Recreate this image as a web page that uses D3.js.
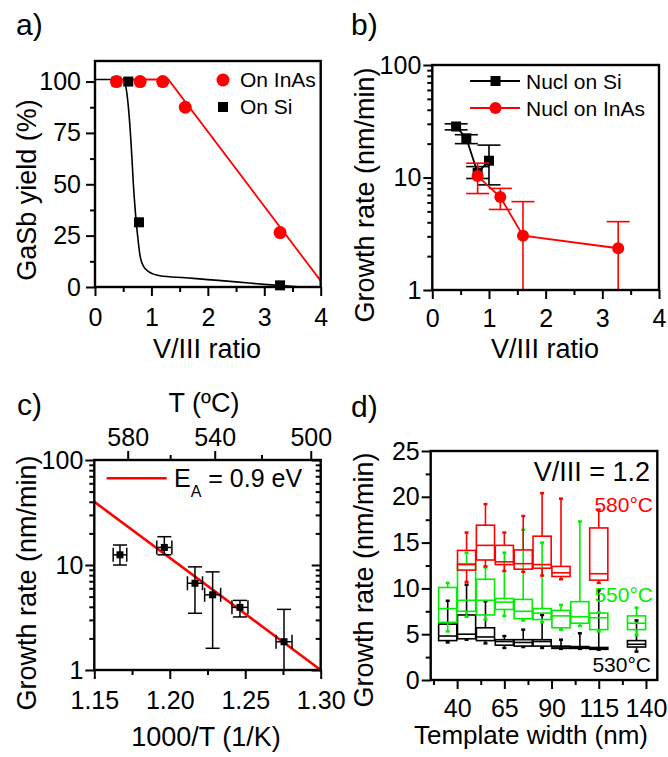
<!DOCTYPE html>
<html>
<head>
<meta charset="utf-8">
<script src="https://cdn.jsdelivr.net/npm/d3@7"></script>
<style>
  body { margin: 0; background: #fff; }
  svg { display: block; font-family: "Liberation Sans", Arial, sans-serif; }
</style>
</head>
<body>
<svg id="fig" width="668" height="757"></svg>
<script>
// ---- a) GaSb yield vs V/III ratio
const yieldInAsX = [0.38, 0.8, 1.2, 1.6, 3.28];
const yieldInAs = [100, 100, 100, 87.5, 26.5];
const yieldSiX = [0.38, 0.59, 0.78, 3.28];
const yieldSi = [100, 100, 31.5, 0.8];
const fitInAs = [[0.35, 101], [1.3, 101], [4.0, 3]];
const fitSi = [[0.02, 101], [0.5, 101], [0.55, 97], [0.6, 85], [0.65, 65], [0.68, 50],
  [0.72, 35], [0.755, 25], [0.8, 15], [0.86, 10], [0.95, 7.5], [1.15, 5.5],
  [1.6, 4.5], [2, 3.6], [2.5, 2.5], [3, 1.3], [3.6, 0.1]];

// ---- b) growth rate vs V/III ratio (nucleation)
const nuclSiX = [0.42, 0.6, 0.8, 1.0];
const nuclSi = [28.4, 22.3, 11, 14.1];
const nuclSiLo = [26.5, 20, 9.8, 8.6];
const nuclSiHi = [30, 24, 12.5, 19.4];
const nuclInAsX = [0.8, 1.2, 1.6, 3.28];
const nuclInAs = [10.3, 6.7, 3.04, 2.35];
const nuclInAsLo = [7.2, 5.2, 1, 1];
const nuclInAsHi = [13.4, 8.0, 6.1, 4.05];

// ---- c) Arrhenius plot
const invT = [1.167, 1.1964, 1.2167, 1.2284, 1.2465, 1.2757];
const invTErr = [0.0045, 0.005, 0.005, 0.0053, 0.0053, 0.0053];
const arrRate = [12.5, 14.7, 6.7, 5.2, 3.95, 1.86];
const arrLo = [10, 12.5, 3.47, 1.61, 3.2, 1];
const arrHi = [15.5, 18.6, 9.6, 8.6, 4.6, 3.78];
const arrFit = [[1.15, 40], [1.30, 1.0]];
const tempMajor = [580, 540, 500];
const tempMinor = [560, 520];

// ---- d) growth rate vs template width, [min, q1, median, q3, max]
const widths580 = [45, 55, 65, 75, 85, 95, 115];
const box580 = [[10.7, 12.0, 12.6, 14.15, 16.1], [12.4, 13.1, 14.7, 16.9, 19.2],
  [11.9, 12.6, 12.9, 14.7, 16.1], [11.8, 12.1, 12.7, 14.2, 17.9], [11.4, 12.2, 12.6, 15.7, 20.4],
  [11.0, 11.3, 11.7, 12.4, 19.8], [10.6, 10.9, 11.6, 16.6, 18.6]];
const widths550 = [35, 45, 55, 65, 75, 85, 95, 105, 115, 135];
const box550 = [[5.3, 6.3, 7.8, 10.1, 10.6], [6.9, 7.5, 8.7, 12.7, 13.9], [6.6, 7.1, 8.7, 11.0, 12.3],
  [7.0, 7.7, 8.5, 8.9, 13.9], [6.5, 6.7, 7.5, 8.8, 16.4], [6.3, 6.6, 7.3, 7.8, 15.0],
  [5.5, 5.7, 7.0, 7.6, 8.2], [5.9, 6.2, 6.9, 8.55, 17.3], [5.3, 5.5, 6.8, 7.3, 7.4],
  [4.9, 5.5, 6.2, 7.0, 7.9]];
const widths530 = [35, 45, 55, 65, 75, 85, 95, 105, 115, 135];
const box530 = [[4.1, 4.3, 4.8, 6.1, 8.65], [4.4, 4.5, 5.0, 7.1, 10.4], [4.0, 4.3, 4.7, 5.7, 8.6],
  [3.5, 3.8, 4.2, 4.4, 4.8], [3.6, 3.7, 4.1, 4.4, 5.5], [3.5, 3.7, 4.2, 4.4, 7.1],
  [3.4, 3.45, 3.6, 3.7, 4.4], [3.4, 3.45, 3.55, 3.65, 5.1], [3.3, 3.35, 3.45, 3.55, 9.8],
  [3.1, 3.6, 3.9, 4.3, 6.5]];
const widthMajor = [40, 65, 90, 115, 140];
const widthMinor = [27.5, 52.5, 77.5, 102.5, 127.5];

const RED = "#ff0000";
const GREEN = "#00ee00";
const TICK_FONT = 25;
const TITLE_FONT = 27;
const LETTER_FONT = 30;
const LEGEND_FONT = 21;

const svg = d3.select("#fig");

/**
 * Draw an axis, then restyle it (no domain, thick ticks, big labels).
 */
const drawAxis = function (g, axis, translate) {
  const a = g.append("g")
    .attr("transform", translate)
    .call(axis)
    .attr("font-family", null)
    .attr("font-size", TICK_FONT);
  a.select(".domain").remove();
  a.selectAll(".tick line").attr("stroke", "#000").attr("stroke-width", 2);
  a.selectAll(".tick text").attr("fill", "#000");
  return a;
};

const frame = function (g, x, y) {
  g.append("rect")
    .attr("x", x.range()[0]).attr("y", y.range()[1])
    .attr("width", x.range()[1] - x.range()[0])
    .attr("height", y.range()[0] - y.range()[1])
    .attr("fill", "none").attr("stroke", "#000").attr("stroke-width", 2.4);
};

const text = function (g, x, y, str, size, anchor, fill) {
  return g.append("text")
    .attr("x", x).attr("y", y)
    .attr("font-size", size)
    .attr("text-anchor", anchor || "start")
    .attr("fill", fill || "#000")
    .text(str);
};

const yTitle = function (g, x, y, str) {
  g.append("text")
    .attr("transform", `translate(${x},${y}) rotate(-90)`)
    .attr("text-anchor", "middle")
    .attr("font-size", TITLE_FONT)
    .text(str);
};

const logMinor = [2, 3, 4, 5, 6, 7, 8, 9, 20, 30, 40, 50, 60, 70, 80, 90];

// ================= a)
(function () {
  const g = svg.append("g");
  const x = d3.scaleLinear().domain([0, 4]).range([95, 320.7]);
  const y = d3.scaleLinear().domain([0, 110]).range([287, 61]);

  drawAxis(g, d3.axisBottom(x).tickValues([0, 1, 2, 3, 4]).tickSize(9).tickPadding(12).tickFormat(d3.format("d")), `translate(0,${y(0)})`);
  drawAxis(g, d3.axisBottom(x).tickValues([0.5, 1.5, 2.5, 3.5]).tickSize(5).tickFormat(""), `translate(0,${y(0)})`);
  drawAxis(g, d3.axisLeft(y).tickValues([0, 25, 50, 75, 100]).tickSize(9).tickPadding(5), `translate(${x(0)},0)`);
  drawAxis(g, d3.axisLeft(y).tickValues([12.5, 37.5, 62.5, 87.5]).tickSize(5).tickFormat(""), `translate(${x(0)},0)`);

  const line = d3.line().x(d => x(d[0])).y(d => y(d[1]));
  g.append("path")
    .attr("d", line.curve(d3.curveMonotoneX)(fitSi))
    .attr("fill", "none").attr("stroke", "#000").attr("stroke-width", 1.6);
  g.append("path")
    .attr("d", d3.line().x(d => x(d[0])).y(d => y(d[1]))(fitInAs))
    .attr("fill", "none").attr("stroke", RED).attr("stroke-width", 1.8);

  g.selectAll("rect.si").data(yieldSiX).join("rect")
    .attr("class", "si")
    .attr("x", (d) => x(d) - 5).attr("y", (d, i) => y(yieldSi[i]) - 5)
    .attr("width", 10).attr("height", 10).attr("fill", "#000");
  g.selectAll("circle.inas").data(yieldInAsX).join("circle")
    .attr("class", "inas")
    .attr("cx", d => x(d)).attr("cy", (d, i) => y(yieldInAs[i]))
    .attr("r", 6.5).attr("fill", RED);

  frame(g, x, y);

  // legend
  g.append("circle").attr("cx", 223).attr("cy", 80).attr("r", 6.5).attr("fill", RED);
  text(g, 240, 87, "On InAs", LEGEND_FONT);
  g.append("rect").attr("x", 218).attr("y", 102).attr("width", 10).attr("height", 10).attr("fill", "#000");
  text(g, 240, 114, "On Si", LEGEND_FONT);

  text(g, 16, 35, "a)", LETTER_FONT);
  yTitle(g, 36, 190, "GaSb yield (%)");
  text(g, 207, 358, "V/III ratio", TITLE_FONT, "middle");
})();

// ================= b)
(function () {
  const g = svg.append("g");
  const x = d3.scaleLinear().domain([0, 4]).range([432.3, 659]);
  const y = d3.scaleLog().domain([1, 100]).range([290, 65]);

  drawAxis(g, d3.axisBottom(x).tickValues([0, 1, 2, 3, 4]).tickSize(9).tickPadding(10).tickFormat(d3.format("d")), `translate(0,${y(1)})`);
  drawAxis(g, d3.axisBottom(x).tickValues([0.5, 1.5, 2.5, 3.5]).tickSize(5).tickFormat(""), `translate(0,${y(1)})`);
  drawAxis(g, d3.axisLeft(y).tickValues([1, 10, 100]).tickSize(9).tickPadding(2).tickFormat(d3.format("d")), `translate(${x(0)},0)`);
  drawAxis(g, d3.axisLeft(y).tickValues(logMinor).tickSize(5).tickFormat(""), `translate(${x(0)},0)`);

  const series = [
    { xs: nuclSiX, ys: nuclSi, lo: nuclSiLo, hi: nuclSiHi, color: "#000", shape: "square" },
    { xs: nuclInAsX, ys: nuclInAs, lo: nuclInAsLo, hi: nuclInAsHi, color: RED, shape: "circle" }
  ];

  series.forEach(s => {
    const pts = s.xs.map((d, i) => [d, s.ys[i]]);
    g.append("path")
      .attr("d", d3.line().x(d => x(d[0])).y(d => y(d[1]))(pts))
      .attr("fill", "none").attr("stroke", s.color).attr("stroke-width", 1.8);

    const eb = g.append("g").attr("stroke", s.color).attr("stroke-width", 1.6);
    s.xs.forEach((d, i) => {
      const cx = x(d);
      eb.append("line").attr("x1", cx).attr("x2", cx).attr("y1", y(s.lo[i])).attr("y2", y(s.hi[i]));
      [s.lo[i], s.hi[i]].forEach(v => {
        if (v <= 1) return;
        eb.append("line").attr("x1", cx - 11.5).attr("x2", cx + 11.5).attr("y1", y(v)).attr("y2", y(v));
      });
    });

    if (s.shape === "square") {
      g.selectAll(null).data(pts).join("rect")
        .attr("x", d => x(d[0]) - 5).attr("y", d => y(d[1]) - 5)
        .attr("width", 10).attr("height", 10).attr("fill", s.color);
    } else {
      g.selectAll(null).data(pts).join("circle")
        .attr("cx", d => x(d[0])).attr("cy", d => y(d[1]))
        .attr("r", 6).attr("fill", s.color);
    }
  });

  frame(g, x, y);

  // legend
  g.append("line").attr("x1", 470).attr("x2", 520).attr("y1", 81).attr("y2", 81).attr("stroke", "#000").attr("stroke-width", 1.8);
  g.append("rect").attr("x", 490.5).attr("y", 76).attr("width", 10).attr("height", 10).attr("fill", "#000");
  text(g, 526, 89, "Nucl on Si", LEGEND_FONT);
  g.append("line").attr("x1", 470).attr("x2", 520).attr("y1", 108).attr("y2", 108).attr("stroke", RED).attr("stroke-width", 1.8);
  g.append("circle").attr("cx", 495.5).attr("cy", 108).attr("r", 6).attr("fill", RED);
  text(g, 526, 116, "Nucl on InAs", LEGEND_FONT);

  text(g, 351, 35, "b)", LETTER_FONT);
  yTitle(g, 374, 195, "Growth rate (nm/min)");
  text(g, 545, 358, "V/III ratio", TITLE_FONT, "middle");
})();

// ================= c)
(function () {
  const g = svg.append("g");
  const x = d3.scaleLinear().domain([1.15, 1.30]).range([94.3, 320.7]);
  const y = d3.scaleLog().domain([1, 100]).range([670, 460]);
  const toInv = t => 1000 / (t + 273.15);

  drawAxis(g, d3.axisBottom(x).tickValues([1.15, 1.20, 1.25, 1.30]).tickSize(9).tickPadding(12).tickFormat(d3.format(".2f")), `translate(0,${y(1)})`);
  drawAxis(g, d3.axisBottom(x).tickValues([1.175, 1.225, 1.275]).tickSize(5).tickFormat(""), `translate(0,${y(1)})`);
  drawAxis(g, d3.axisTop(x).tickValues(tempMajor.map(toInv)).tickSize(9).tickPadding(5)
    .tickFormat((d, i) => tempMajor[i]), `translate(0,${y(100)})`);
  drawAxis(g, d3.axisTop(x).tickValues(tempMinor.map(toInv)).tickSize(5).tickFormat(""), `translate(0,${y(100)})`);
  drawAxis(g, d3.axisLeft(y).tickValues([1, 10, 100]).tickSize(9).tickPadding(2).tickFormat(d3.format("d")), `translate(${x(1.15)},0)`);
  drawAxis(g, d3.axisLeft(y).tickValues(logMinor).tickSize(5).tickFormat(""), `translate(${x(1.15)},0)`);
  // right axis: inward ticks
  drawAxis(g, d3.axisLeft(y).tickValues([1, 10, 100]).tickSize(9).tickFormat(""), `translate(${x(1.30)},0)`);
  drawAxis(g, d3.axisLeft(y).tickValues(logMinor).tickSize(5).tickFormat(""), `translate(${x(1.30)},0)`);

  g.append("path")
    .attr("d", d3.line().x(d => x(d[0])).y(d => y(d[1]))(arrFit))
    .attr("fill", "none").attr("stroke", RED).attr("stroke-width", 2.6);

  const eb = g.append("g").attr("stroke", "#000").attr("stroke-width", 1.5);
  invT.forEach((d, i) => {
    const cx = x(d), cy = y(arrRate[i]);
    const xl = x(d - invTErr[i]), xr = x(d + invTErr[i]);
    eb.append("line").attr("x1", cx).attr("x2", cx).attr("y1", y(arrLo[i])).attr("y2", y(arrHi[i]));
    eb.append("line").attr("x1", xl).attr("x2", xr).attr("y1", cy).attr("y2", cy);
    [arrLo[i], arrHi[i]].forEach(v => {
      if (v <= 1) return;
      eb.append("line").attr("x1", cx - 7).attr("x2", cx + 7).attr("y1", y(v)).attr("y2", y(v));
    });
    [xl, xr].forEach(v => {
      eb.append("line").attr("x1", v).attr("x2", v).attr("y1", cy - 7).attr("y2", cy + 7);
    });
  });
  g.selectAll(null).data(invT).join("rect")
    .attr("x", d => x(d) - 3.5).attr("y", (d, i) => y(arrRate[i]) - 3.5)
    .attr("width", 7).attr("height", 7).attr("fill", "#000");

  frame(g, x, y);

  // legend
  g.append("line").attr("x1", 106.7).attr("x2", 166.7).attr("y1", 478.3).attr("y2", 478.3)
    .attr("stroke", RED).attr("stroke-width", 2.6);
  const lt = text(g, 174, 487, "E", 25);
  lt.append("tspan").attr("font-size", 16).attr("dy", 10).text("A");
  lt.append("tspan").attr("dy", -10).text(" = 0.9 eV");

  text(g, 17, 415, "c)", LETTER_FONT);
  text(g, 204, 412, "T (ºC)", TITLE_FONT, "middle");
  yTitle(g, 36, 583, "Growth rate (nm/min)");
  text(g, 206, 746, "1000/T (1/K)", TITLE_FONT, "middle");
})();

// ================= d)
(function () {
  const g = svg.append("g");
  const x = d3.scaleLinear().domain([26, 146]).range([430.7, 657.3]);
  const y = d3.scaleLinear().domain([0, 25]).range([680, 451]);

  drawAxis(g, d3.axisBottom(x).tickValues(widthMajor).tickSize(9).tickPadding(10), `translate(0,${y(0)})`);
  drawAxis(g, d3.axisBottom(x).tickValues(widthMinor).tickSize(5).tickFormat(""), `translate(0,${y(0)})`);
  drawAxis(g, d3.axisLeft(y).tickValues([0, 5, 10, 15, 20, 25]).tickSize(9).tickPadding(2), `translate(${x.range()[0]},0)`);
  drawAxis(g, d3.axisLeft(y).tickValues([2.5, 7.5, 12.5, 17.5, 22.5]).tickSize(5).tickFormat(""), `translate(${x.range()[0]},0)`);

  const boxW = x(9.6) - x(0);
  const drawBoxes = function (ws, boxes, color) {
    const bg = g.append("g").attr("stroke", color).attr("fill", "none").attr("stroke-width", 1.6);
    ws.forEach((w, i) => {
      const b = boxes[i];
      const cx = x(w);
      bg.append("line").attr("x1", cx).attr("x2", cx).attr("y1", y(b[0])).attr("y2", y(b[1]));
      bg.append("line").attr("x1", cx).attr("x2", cx).attr("y1", y(b[3])).attr("y2", y(b[4]));
      [b[0], b[4]].forEach(v => {
        bg.append("line").attr("x1", cx - 2).attr("x2", cx + 2).attr("y1", y(v)).attr("y2", y(v)).attr("stroke-width", 2.5);
      });
      bg.append("rect").attr("x", cx - boxW / 2).attr("y", y(b[3]))
        .attr("width", boxW).attr("height", y(b[1]) - y(b[3]));
      bg.append("line").attr("x1", cx - boxW / 2).attr("x2", cx + boxW / 2).attr("y1", y(b[2])).attr("y2", y(b[2]));
    });
  };
  drawBoxes(widths530, box530, "#000");
  drawBoxes(widths550, box550, GREEN);
  drawBoxes(widths580, box580, RED);

  frame(g, x, y);

  text(g, 650, 481, "V/III = 1.2", 27, "end");
  text(g, 653, 512, "580°C", LEGEND_FONT, "end", RED);
  text(g, 653, 602, "550°C", LEGEND_FONT, "end", GREEN);
  text(g, 651, 672, "530°C", LEGEND_FONT, "end");

  text(g, 351, 417, "d)", LETTER_FONT);
  yTitle(g, 373, 580, "Growth rate (nm/min)");
  text(g, 531, 744, "Template width (nm)", 26, "middle");
})();
</script>
</body>
</html>
